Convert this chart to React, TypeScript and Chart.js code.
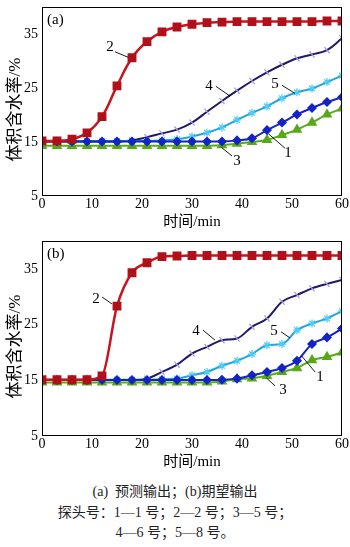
import React, { useEffect, useRef } from "react";
import { Chart, registerables } from "chart.js";

Chart.register(...registerables);

// ---------- data ----------
const timeMin = [0, 3, 6, 9, 12, 15, 18, 21, 24, 27, 30, 33, 36, 39, 42, 45, 48, 51, 54, 57, 60];
const xTickValues = [0, 10, 20, 30, 40, 50, 60];
const yTickValues = [5, 15, 25, 35];

// (a) predicted output
const predProbe1 = [15.1, 15.1, 15.1, 15.1, 15.1, 15.1, 15.1, 15.1, 15.1, 15.1, 15.1, 15.1, 15.1, 15.3, 15.7, 17.2, 18.6, 20.1, 21.3, 22.4, 23.3];
const predProbe2 = [15.2, 15.2, 15.5, 16.7, 19.7, 25.4, 30.6, 33.6, 35.4, 36.3, 36.8, 37.1, 37.2, 37.3, 37.3, 37.3, 37.3, 37.3, 37.3, 37.4, 37.4];
const predProbe5 = [14.3, 14.3, 14.3, 14.3, 14.3, 14.3, 14.3, 14.3, 14.3, 14.3, 14.3, 14.3, 14.4, 14.7, 15.0, 15.4, 16.3, 17.3, 18.6, 20.1, 21.2];
const predProbe6 = [15.1, 15.1, 15.1, 15.1, 15.1, 15.1, 15.3, 15.9, 16.6, 17.3, 18.6, 20.6, 22.6, 24.5, 26.3, 27.9, 29.3, 30.5, 31.2, 32.0, 34.2];
const predProbe8 = [15.2, 15.2, 15.2, 15.2, 15.2, 15.2, 15.2, 15.2, 15.3, 15.5, 16.0, 16.7, 17.7, 19.1, 20.4, 21.6, 23.1, 24.2, 24.9, 26.1, 27.3];

// (b) expected output
const expProbe1 = [15.05, 15.05, 15.05, 15.05, 15.05, 15.05, 15.05, 15.05, 15.05, 15.05, 15.05, 15.05, 15.1, 15.3, 15.9, 16.5, 17.2, 18.5, 21.5, 22.7, 24.3];
const expProbe2 = [15.1, 15.1, 15.1, 15.1, 15.8, 28.3, 34.3, 36.1, 37.2, 37.3, 37.4, 37.4, 37.4, 37.4, 37.4, 37.4, 37.4, 37.4, 37.4, 37.4, 37.4];
const expProbe5 = [14.6, 14.6, 14.6, 14.6, 14.6, 14.6, 14.6, 14.6, 14.6, 14.6, 14.6, 14.6, 14.8, 15.2, 15.35, 15.8, 16.5, 17.2, 18.6, 19.2, 20.0];
const expProbe6 = [15.05, 15.05, 15.05, 15.05, 15.05, 15.05, 15.05, 15.3, 16.5, 17.8, 19.8, 21.0, 22.2, 22.5, 24.6, 26.1, 29.1, 30.3, 31.5, 32.3, 33.0];
const expProbe8 = [15.1, 15.1, 15.1, 15.1, 15.1, 15.1, 15.1, 15.1, 15.2, 15.3, 15.9, 16.5, 17.6, 18.5, 19.7, 21.3, 21.5, 24.0, 25.2, 26.1, 27.4];

// curve labels: [label, textX, textY, leaderFromX, leaderFromY, leaderToX, leaderToY] in data units
const predLabels: [string, number, number, number, number, number, number][] = [
  ["2", 13.6, 32.5, 14.6, 31.7, 17.2, 30.7],
  ["4", 33.4, 25.3, 34.8, 25.3, 37.6, 23.5],
  ["5", 46.6, 25.8, 48.0, 25.5, 50.6, 24.0],
  ["1", 49.2, 12.9, 48.6, 13.85, 45.3, 16.5],
  ["3", 39.0, 11.5, 38.0, 12.4, 35.9, 14.0],
];
const expLabels: [string, number, number, number, number, number, number][] = [
  ["2", 10.8, 29.6, 12.0, 29.95, 14.0, 28.7],
  ["4", 30.8, 23.8, 32.2, 24.0, 34.6, 22.2],
  ["5", 46.4, 23.8, 47.8, 23.7, 49.6, 22.6],
  ["1", 55.6, 15.6, 54.6, 16.5, 51.9, 19.4],
  ["3", 48.2, 13.3, 46.6, 14.0, 44.9, 15.4],
];

const yTitle = "体积含水率/%";
const xTitle = "时间/min";

const SERIF = '"Liberation Serif", "Noto Sans CJK SC", serif';

const decorPlugin = {
  id: "decor",
  afterDraw(chart: any, _args: any, opts: any) {
    const { ctx, chartArea: a, scales } = chart;
    const xs = scales.x;
    const ys = scales.y;
    ctx.save();
    // frame
    ctx.strokeStyle = "#000";
    ctx.lineWidth = 1;
    ctx.strokeRect(a.left + 0.5, a.top + 0.5, a.right - a.left - 1, a.bottom - a.top - 1);
    // y title
    ctx.fillStyle = "#000";
    ctx.font = "17px " + SERIF;
    ctx.textAlign = "center";
    ctx.textBaseline = "middle";
    ctx.save();
    ctx.translate(15.5, (a.top + a.bottom) / 2 + 8);
    ctx.rotate(-Math.PI / 2);
    ctx.fillText(yTitle, 0, 0);
    ctx.restore();
    // x title
    ctx.font = "15px " + SERIF;
    ctx.fillText(xTitle, (a.left + a.right) / 2, a.bottom + 26);
    // panel label
    ctx.font = "15px " + SERIF;
    ctx.textAlign = "left";
    ctx.fillText(opts.panel, a.left + 5, a.top + 13);
    // curve labels
    ctx.textAlign = "center";
    ctx.font = "15px " + SERIF;
    for (const [t, tx, ty, x1, y1, x2, y2] of opts.labels) {
      ctx.fillText(t, xs.getPixelForValue(tx), ys.getPixelForValue(ty));
      ctx.beginPath();
      ctx.moveTo(xs.getPixelForValue(x1), ys.getPixelForValue(y1));
      ctx.lineTo(xs.getPixelForValue(x2), ys.getPixelForValue(y2));
      ctx.lineWidth = 0.9;
      ctx.stroke();
    }
    ctx.restore();
  },
};

function makeDatasets(p1: number[], p2: number[], p5: number[], p6: number[], p8: number[]) {
  const pts = (arr: number[]) => timeMin.map((t, i) => ({ x: t, y: arr[i] }));
  return [
    {
      data: pts(p2),
      borderColor: "#c8141e",
      backgroundColor: "#b0101a",
      pointBackgroundColor: "#b0101a",
      pointBorderColor: "#b0101a",
      pointStyle: "rect",
      pointRadius: 4.5,
      borderWidth: 2.5,
    },
    {
      data: pts(p1),
      borderColor: "#1424c4",
      backgroundColor: "#1424c4",
      pointBackgroundColor: "#1424c4",
      pointBorderColor: "#1424c4",
      pointStyle: "rectRot",
      pointRadius: 3.6,
      borderWidth: 2,
    },
    {
      data: pts(p5),
      borderColor: "#5aaa1e",
      backgroundColor: "#58a818",
      pointBackgroundColor: "#58a818",
      pointBorderColor: "#58a818",
      pointStyle: "triangle",
      pointRadius: 4.2,
      borderWidth: 2,
    },
    {
      data: pts(p8),
      borderColor: "#22a4dc",
      backgroundColor: "#58d0f4",
      pointBackgroundColor: "#58d0f4",
      pointBorderColor: "#50cbf2",
      pointStyle: "star",
      pointRadius: 4,
      pointBorderWidth: 1.3,
      borderWidth: 2,
    },
    {
      data: pts(p6),
      borderColor: "#1e1a6a",
      backgroundColor: "#a99be0",
      pointBackgroundColor: "#a99be0",
      pointBorderColor: "#a99be0",
      pointStyle: "line",
      pointRotation: 50,
      pointRadius: 4,
      pointBorderWidth: 1.3,
      borderWidth: 2,
    },
  ];
}

function makeConfig(datasets: any[], panel: string, labels: any[], padTop: number, smooth: boolean) {
  return {
    type: "line",
    data: { datasets },
    plugins: [decorPlugin],
    options: {
      animation: false,
      responsive: false,
      devicePixelRatio: 1,
      layout: { padding: { top: padTop, left: 0, right: 8, bottom: 0 } },
      elements: {
        line: smooth ? { tension: 0.4, cubicInterpolationMode: "default" } : { cubicInterpolationMode: "monotone" },
      },
      plugins: {
        legend: { display: false },
        tooltip: { enabled: false },
        decor: { panel, labels },
      },
      scales: {
        x: {
          type: "linear",
          min: 0,
          max: 60,
          grid: { display: false, drawTicks: false },
          border: { display: false },
          afterBuildTicks: (s: any) => {
            s.ticks = xTickValues.map((v) => ({ value: v }));
          },
          afterFit: (s: any) => {
            s.height = 34;
            s.paddingLeft = 0;
            s.paddingRight = 0;
          },
          ticks: {
            padding: 0,
            maxRotation: 0,
            color: "#000",
            font: { family: SERIF, size: 14 },
          },
        },
        y: {
          type: "linear",
          min: 5,
          max: 40,
          grid: { display: false, drawTicks: false },
          border: { display: false },
          afterBuildTicks: (s: any) => {
            s.ticks = yTickValues.map((v) => ({ value: v }));
          },
          afterFit: (s: any) => {
            s.width = 42;
            s.paddingTop = 0;
            s.paddingBottom = 0;
          },
          ticks: {
            padding: 4,
            color: "#000",
            font: { family: SERIF, size: 14 },
          },
        },
      },
    },
  };
}

function Panel(props: { cfg: () => any; width: number; height: number; top: number }) {
  const ref = useRef<HTMLCanvasElement>(null);
  useEffect(() => {
    if (!ref.current) return;
    const chart = new Chart(ref.current, props.cfg());
    return () => chart.destroy();
  }, []);
  return (
    <canvas
      ref={ref}
      width={props.width}
      height={props.height}
      style={{ position: "absolute", left: 0, top: props.top, width: props.width, height: props.height }}
    />
  );
}

const captionStyle: React.CSSProperties = {
  position: "absolute",
  left: 0,
  width: 350,
  textAlign: "center",
  fontFamily: SERIF,
  fontSize: 14,
  color: "#222",
  lineHeight: "20px",
  whiteSpace: "nowrap",
};

export default function App() {
  return (
    <div
      style={{
        position: "fixed",
        left: 0,
        top: 0,
        width: 350,
        height: 547,
        background: "#fff",
        overflow: "hidden",
      }}
    >
      <Panel
        width={350}
        height={230}
        top={0}
        cfg={() =>
          makeConfig(makeDatasets(predProbe1, predProbe2, predProbe5, predProbe6, predProbe8), "(a)", predLabels, 1, true)
        }
      />
      <Panel
        width={350}
        height={240}
        top={230}
        cfg={() =>
          makeConfig(makeDatasets(expProbe1, expProbe2, expProbe5, expProbe6, expProbe8), "(b)", expLabels, 11, false)
        }
      />
      <div style={{ ...captionStyle, top: 482 }}>(a)&nbsp; 预测输出；(b)期望输出</div>
      <div style={{ ...captionStyle, top: 503 }}>探头号：1—1 号；2—2 号；3—5 号；</div>
      <div style={{ ...captionStyle, top: 523 }}>4—6 号；5—8 号。</div>
    </div>
  );
}
